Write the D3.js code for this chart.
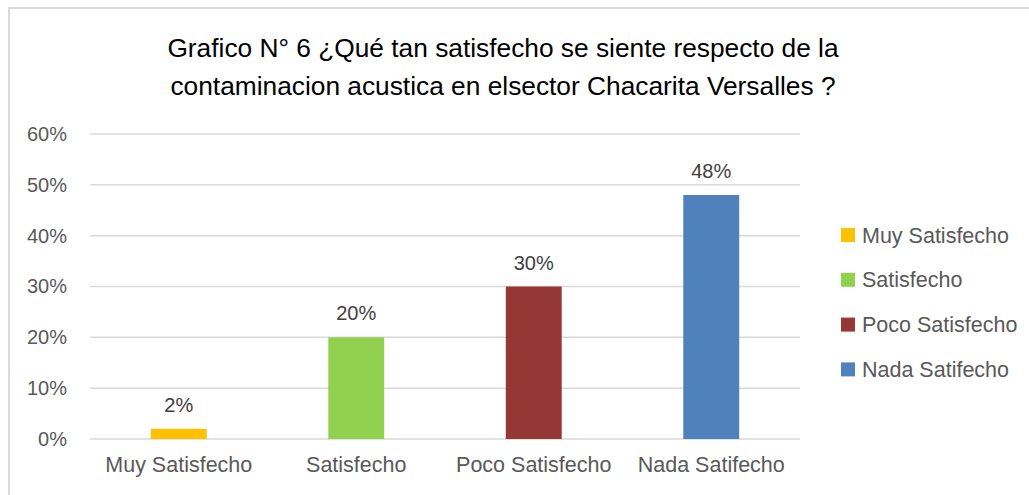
<!DOCTYPE html>
<html>
<head>
<meta charset="utf-8">
<script src="https://cdn.jsdelivr.net/npm/d3@7"></script>
<style>
  html, body { margin: 0; padding: 0; background: #fff; }
  svg { display: block; }
  svg text { font-family: "Liberation Sans", Arial, sans-serif; }
</style>
</head>
<body>
<svg id="chart" width="1029" height="495"></svg>
<script>
const titleLines = ["Grafico N° 6 ¿Qué tan satisfecho se siente respecto de la",
                    "contaminacion acustica en elsector Chacarita Versalles ?"];
const categories = ["Muy Satisfecho", "Satisfecho", "Poco Satisfecho", "Nada Satifecho"];
const values = [0.02, 0.20, 0.30, 0.48];
const colors = ["#FFC000", "#92D050", "#953735", "#4F81BD"];
const yTicks = [0, 0.1, 0.2, 0.3, 0.4, 0.5, 0.6];

const svg = d3.select("#chart");

// outer border
svg.append("rect").attr("x", 9).attr("y", 8).attr("width", 1040).attr("height", 500)
  .attr("fill", "none").attr("stroke", "#d9d9d9").attr("stroke-width", 2);

// title
svg.append("g").selectAll("text").data(titleLines).join("text")
  .attr("x", 503).attr("y", (d, i) => 57 + i * 38)
  .attr("text-anchor", "middle").attr("font-size", 26.3).attr("fill", "#000")
  .text(d => d);

const x = d3.scaleBand().domain(categories).range([90, 800]).paddingInner(0.685).paddingOuter(0.3425);
const y = d3.scaleLinear().domain([0, 0.6]).range([439, 134]);

// gridlines
svg.append("g").selectAll("line").data(yTicks).join("line")
  .attr("x1", 90).attr("x2", 800)
  .attr("y1", d => y(d)).attr("y2", d => y(d))
  .attr("stroke", "#d9d9d9").attr("stroke-width", 1.5);

// y axis labels
const yAxis = d3.axisLeft(y).tickValues(yTicks).tickFormat(d3.format(".0%")).tickSize(0).tickPadding(0);
const yg = svg.append("g").attr("transform", "translate(67,0)").call(yAxis).attr("font-family", null);
yg.select(".domain").remove();
yg.selectAll("text").attr("font-size", 20).attr("fill", "#595959");

// x axis labels
const xAxis = d3.axisBottom(x).tickSize(0).tickPadding(0);
const xg = svg.append("g").attr("transform", "translate(0,454)").call(xAxis).attr("font-family", null);
xg.select(".domain").remove();
xg.selectAll("text").attr("font-size", 21.5).attr("fill", "#595959").attr("dy", "0.85em");

// bars
svg.append("g").selectAll("rect").data(values).join("rect")
  .attr("x", (d, i) => x(categories[i]))
  .attr("width", x.bandwidth())
  .attr("y", d => y(d))
  .attr("height", d => y(0) - y(d))
  .attr("fill", (d, i) => colors[i]);

// data labels
svg.append("g").selectAll("text").data(values).join("text")
  .attr("x", (d, i) => x(categories[i]) + x.bandwidth() / 2)
  .attr("y", d => y(d) - 17)
  .attr("text-anchor", "middle").attr("font-size", 20).attr("fill", "#404040")
  .text(d => d3.format(".0%")(d));

// legend
const lg = svg.append("g").selectAll("g").data(categories).join("g")
  .attr("transform", (d, i) => `translate(841, ${235 + i * 44.8})`);
lg.append("rect").attr("x", 0).attr("y", -7).attr("width", 14).attr("height", 14)
  .attr("fill", (d, i) => colors[i]);
lg.append("text").attr("x", 21).attr("y", 0).attr("dy", "0.35em")
  .attr("font-size", 21.5).attr("fill", "#595959").text(d => d);
</script>
</body>
</html>
